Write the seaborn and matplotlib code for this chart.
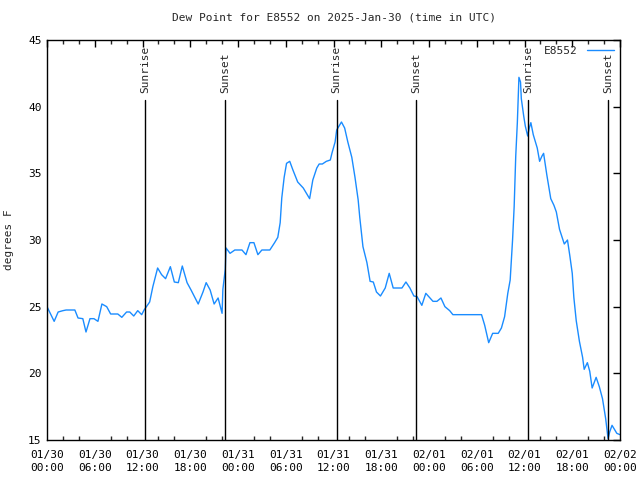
import matplotlib
matplotlib.use("Agg")
import matplotlib.pyplot as plt
import seaborn as sns
import pandas as pd
import numpy as np

# hours since 2025-01-30 00:00 UTC
hours = [0.0, 0.9, 1.4, 2.0, 2.4, 3.5, 3.9, 4.5, 4.9, 5.4, 5.9, 6.4, 6.9, 7.5, 8.0,
         8.9, 9.4, 10.0, 10.4, 10.9, 11.4, 11.9, 12.2, 12.9, 13.3, 13.9, 14.4, 14.9,
         15.5, 16.0, 16.5, 17.0, 17.6, 18.1, 19.0, 19.6, 20.0, 20.5, 21.0, 21.5, 22.0,
         22.1, 22.4, 22.5, 23.0, 23.6, 24.5, 25.0, 25.5, 26.0, 26.5, 27.0, 28.0, 28.6,
         29.0, 29.3, 29.5, 29.8, 30.1, 30.5, 30.9, 31.5, 32.2, 33.0, 33.4, 33.9, 34.2,
         34.6, 35.1, 35.6, 35.8, 36.2, 36.4, 36.7, 37.0, 37.4, 37.8, 38.3, 38.7, 39.1,
         39.3, 39.7, 40.2, 40.6, 41.0, 41.4, 41.9, 42.5, 43.0, 43.5, 44.6, 45.1, 45.6,
         46.1, 46.5, 47.1, 47.6, 48.5, 49.0, 49.5, 50.0, 50.6, 51.0, 54.6, 55.0, 55.5,
         56.0, 56.7, 57.1, 57.5, 57.9, 58.2, 58.5, 58.7, 58.9, 59.1, 59.3, 59.5, 59.6,
         59.9, 60.1, 60.4, 60.6, 60.8, 61.1, 61.6, 61.9, 62.2, 62.4, 62.8, 63.3, 63.7,
         64.0, 64.4, 65.0, 65.4, 65.7, 66.0, 66.2, 66.5, 66.9, 67.3, 67.5, 67.9, 68.2,
         68.5, 69.0, 69.4, 69.8, 70.2, 70.5, 70.7, 71.0, 71.6, 72.0]
dewpoint = [25.0, 23.9, 24.6, 24.7, 24.75, 24.75, 24.15, 24.1, 23.1, 24.1, 24.1, 23.9,
            25.2, 25.0, 24.45, 24.45, 24.2, 24.6, 24.6, 24.3, 24.7, 24.4, 24.75, 25.35,
            26.5, 27.9, 27.4, 27.1, 28.0, 26.85, 26.8, 28.05, 26.8, 26.25, 25.2, 26.1,
            26.8, 26.25, 25.2, 25.65, 24.5, 26.3, 27.8, 29.4, 29.0, 29.25, 29.25, 28.9,
            29.8, 29.8, 28.9, 29.25, 29.25, 29.8, 30.2, 31.3, 33.15, 34.7, 35.75, 35.9,
            35.25, 34.35, 33.9, 33.1, 34.5, 35.4, 35.7, 35.7, 35.9, 36.0, 36.5, 37.35,
            38.25, 38.55, 38.85, 38.4, 37.35, 36.2, 34.7, 33.0, 31.7, 29.5, 28.3, 26.9,
            26.85, 26.1, 25.8, 26.4, 27.5, 26.4, 26.4, 26.85, 26.4, 25.8, 25.75, 25.1,
            26.0, 25.4, 25.4, 25.65, 25.0, 24.7, 24.4, 24.4, 23.6, 22.3, 23.0, 23.0,
            23.4, 24.25, 26.0, 27.0, 30.0, 32.5, 36.3, 38.8, 42.2, 41.85, 40.6, 39.3,
            38.55, 37.8, 38.4, 38.8, 37.9, 36.9, 35.9, 36.3, 36.5, 34.9, 33.1, 32.6,
            32.1, 30.8, 29.7, 30.0, 28.8, 27.5, 25.7, 23.95, 22.4, 21.2, 20.3, 20.8,
            20.15, 18.9, 19.7, 19.0, 18.1, 16.6, 15.1, 15.6, 16.1, 15.5, 15.4]

sun_hours = [12.3, 22.4, 36.4, 46.4, 60.45, 70.55]
sun_labels = ["Sunrise", "Sunset", "Sunrise", "Sunset", "Sunrise", "Sunset"]

tick_hours = list(range(0, 73, 6))
tick_labels = ["01/30\n00:00", "01/30\n06:00", "01/30\n12:00", "01/30\n18:00",
               "01/31\n00:00", "01/31\n06:00", "01/31\n12:00", "01/31\n18:00",
               "02/01\n00:00", "02/01\n06:00", "02/01\n12:00", "02/01\n18:00",
               "02/02\n00:00"]

sns.set_style("white")
plt.rcParams['font.family'] = ['DejaVu Sans Mono', 'DejaVu Sans']

fig = plt.figure(figsize=(6.4, 4.8), dpi=100)
ax = fig.add_axes([47/640, 40/480, 573/640, 400/480])

df = pd.DataFrame({"hours": hours, "E8552": dewpoint})
sns.lineplot(data=df, x="hours", y="E8552", ax=ax, color="#1a8cff",
             linewidth=1.0, label="E8552")

for h, lab in zip(sun_hours, sun_labels):
    ax.plot([h, h], [15, 40.5], color="black", linewidth=1.0)
    ax.text(h, 41.0, lab, rotation=90, ha="center", va="bottom", fontsize=8)

ax.set_xlim(0, 72)
ax.set_ylim(15, 45)
ax.set_xticks(tick_hours)
ax.set_xticklabels(tick_labels, linespacing=1.45)
ax.set_xticks(list(range(0, 73, 2)), minor=True)
ax.set_yticks([15, 20, 25, 30, 35, 40, 45])
ax.tick_params(axis="both", which="major", direction="in", length=5, width=1,
               top=True, right=True, labelsize=8, colors="black", pad=4)
ax.tick_params(axis="x", which="major", pad=7)
ax.tick_params(axis="x", which="minor", direction="in", length=3, width=1,
               top=True, bottom=True)
for s in ax.spines.values():
    s.set_color("black")
    s.set_linewidth(1.0)

ax.set_xlabel("")
ax.set_ylabel("degrees F", fontsize=8, labelpad=10)
ax.set_title("Dew Point for E8552 on 2025-Jan-30 (time in UTC)", fontsize=8, pad=14)

leg = ax.legend(loc="upper right", frameon=False, fontsize=8, markerfirst=False,
                handlelength=2.5, borderaxespad=0.1)

fig.savefig("out.png", dpi=100)
